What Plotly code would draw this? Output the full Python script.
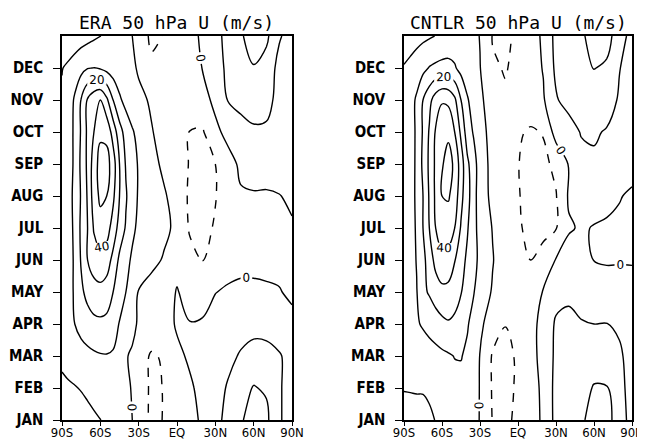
import plotly.graph_objects as go

# Latitude columns (deg; negative = south) and month rows (0 = JAN ... 12 = JAN of next year)
lats = [-90, -85, -80, -75, -70, -65, -60, -55, -50, -45, -40, -35, -30,
        -20, -10, 0, 10, 20, 30, 40, 50, 60, 70, 80, 90]
months = [0, 1, 2, 3, 4, 5, 6, 7, 8, 9, 10, 11, 12]
month_labels = ["JAN", "FEB", "MAR", "APR", "MAY", "JUN",
                "JUL", "AUG", "SEP", "OCT", "NOV", "DEC"]
lat_ticks = [-90, -60, -30, 0, 30, 60, 90]
lat_labels = ["90S", "60S", "30S", "EQ", "30N", "60N", "90N"]

# ERA 50 hPa zonal wind (m/s), one row per month
era_u = [
    [-6, -5.5, -5, -4, -3, -1.5, -0.2, 2, 3.5, 4, 3, 0, -4, -12, -9.6, -4, -2, 1, 7, 13, 19, 24, 22, 11, 6],
    [-2, -1.2, -0.5, 0.5, 2, 3.5, 5, 6, 6, 5, 3, -1, -5, -11.5, -9.7, -4, -1, 2, 6, 11, 17, 20.5, 19, 11, 6],
    [2, 3.5, 5, 6.5, 7.5, 8.5, 9.3, 9.5, 9, 5.5, 0.5, -1, -6, -11, -9, -1.5, 1, 2.5, 4.5, 7.5, 11, 14.5, 14.5, 11, 6],
    [3, 6, 10, 13, 15.5, 17.5, 18, 17.5, 14, 9.5, 6, 2, -1, -4, -3, 0.8, 0.3, 0.5, 3, 5, 6, 6, 5, 3.5, 1.5],
    [4, 7, 11, 18, 23, 26, 27, 25, 20, 14, 10, 5, -0.5, -3, -4, 0.5, -3, -2, -0.2, 1, 1.5, 1.5, 1, 0.3, -1],
    [4, 7, 11, 21, 30, 35, 37, 35, 27, 18, 13, 8.5, 5, 2, -0.7, -2.5, -7, -10.2, -7, -3, -2, -2, -2, -1.5, -1],
    [4, 7, 11.5, 22, 30, 41, 46, 44, 36, 26, 19, 12, 8, 4, 1.5, -1.5, -11, -13, -9, -5, -3, -2.5, -2, -1.2, -0.3],
    [3, 7, 12, 21, 31, 45, 52, 50, 42, 30, 21, 14, 9, 4, 1, -4, -11.5, -13, -10.5, -4, -0.8, -0.4, -0.5, -0.1, 0.5],
    [2, 5, 12, 22, 32, 45, 54, 54, 45, 30, 19, 14, 9, 3, -2, -6, -10.5, -12, -10, -3, 1.5, 2, 2, 1.5, 1],
    [1.5, 5, 12, 21, 32, 40, 48, 47, 36, 24, 16, 11, 7, 0.5, -3, -6, -10.2, -11, -2, 2.5, 5, 8, 8.5, 6, 3],
    [1, 4, 11.5, 20.5, 31, 37, 40, 32, 20, 11.5, 7, 4, 2, -1, -4, -6, -6, -3, 2, 10.5, 14, 16, 13, 7, 4],
    [-0.3, 1.5, 4, 7, 9.5, 10.2, 9, 7, 5, 4, 3, 1.5, -1, -8, -7, -4, -2.5, 0.2, 6, 12, 17, 19.5, 16, 7, 5],
    [-6, -5.5, -5, -4, -3, -1.5, -0.2, 2, 3.5, 4, 3, 0, -4, -12, -9.6, -4, -2, 1, 7, 13, 19, 24, 22, 11, 6],
]

# CNTLR 50 hPa zonal wind (m/s), one row per month
cntlr_u = [
    [-4, -3.5, -3, -2, -1, 0.2, 1.5, 3, 4, 4, 3, 2, -0.3, -10.5, -11, -9, -4, 1.5, 13, 17.5, 19, 22.5, 22.5, 16.5, 5],
    [0.5, 0.6, 0.7, 0.5, 1, 2.5, 4, 5.5, 7, 7, 5, 2.5, -0.3, -11, -12, -9, -4, 2, 13, 16, 17.5, 20.5, 20.5, 14, 5],
    [2, 3, 4, 5, 6, 7, 8, 9, 10.3, 10.5, 8, 4, -0.3, -11, -12, -9, -3, 3, 12, 14, 14.5, 16.5, 16, 12, 5],
    [3, 5.5, 9, 11, 13, 15, 17.5, 19, 18, 15, 11, 6, 2, -5, -9.8, -7, -2, 2, 11.5, 12.5, 10.5, 10, 10.2, 8, 4],
    [4, 6, 9.5, 18, 21, 25, 27.5, 27, 24, 20.5, 15, 10.5, 6, -1, -6, -6.5, -4, 0.5, 6, 8, 7, 6, 4, 3, 2],
    [4, 6, 10.5, 17, 25, 33, 37, 36.5, 30.5, 24, 18, 12.5, 8, 0.5, -6, -8, -10, -6, 0.5, 4, 3, -0.2, -0.8, -0.5, -0.4],
    [4, 6.5, 11, 20, 30, 40, 46, 45, 40, 29, 21, 12.5, 7, -0.5, -4, -9, -12, -13, -10.5, -1, 1, -0.5, -1.2, -1, -0.8],
    [3, 6.5, 11.5, 20, 31, 42, 50, 51, 46, 33, 23, 15, 3, -1.5, -4, -9.5, -12.5, -13, -10.5, 1, 4, 4, 2.5, 0.3, -0.8],
    [2, 5, 12, 22, 32, 42, 49, 54, 48, 35, 22, 14, 5, -3, -6, -9.8, -12, -12, -8, 0.5, 6, 8, 7, 4.5, 2],
    [1.5, 4.5, 12, 21, 31, 41, 47, 48, 40, 28, 15, 9, 3, -3, -7, -9, -11, -9.5, 4, 5, 10.8, 11.5, 9, 5, 2.5],
    [1, 6, 11.5, 20, 27, 35, 39, 38, 32, 20, 11, 5.5, 1.5, -4, -9, -8, -5, -1, 9, 14, 16, 17.5, 16, 8.5, 4],
    [0.5, 2, 4.5, 7.5, 10.5, 12, 13, 13, 11, 7, 4, 2, 0.3, -9, -10.5, -8, -4, 0.5, 12, 15.5, 17.5, 20.2, 19, 10.5, 4.5],
    [-4, -3.5, -3, -2, -1, 0.2, 1.5, 3, 4, 4, 3, 2, -0.3, -10.5, -11, -9, -4, 1.5, 13, 17.5, 19, 22.5, 22.5, 16.5, 5],
]

titles = ["ERA 50 hPa U (m/s)", "CNTLR 50 hPa U (m/s)"]

BLACK = [[0, "black"], [1, "black"]]
LABEL_FONT = dict(family="DejaVu Sans", size=12, color="black")

fig = go.Figure()


def add_panel(z, xa, ya):
    common = dict(x=lats, y=months, z=z, xaxis=xa, yaxis=ya, showscale=False,
                  colorscale=BLACK, autocontour=False, hoverinfo="skip")
    # negative (dashed) contour
    fig.add_trace(go.Contour(
        **common,
        contours=dict(coloring="lines", start=-10, end=-10, size=5, showlabels=False),
        line=dict(width=1.4, dash="dash", smoothing=1.0),
    ))
    # unlabeled positive contours 10, 30, 50
    fig.add_trace(go.Contour(
        **common,
        contours=dict(coloring="lines", start=10, end=50, size=20, showlabels=False),
        line=dict(width=1.4, smoothing=1.0),
    ))
    # labeled contours 0, 20, 40
    fig.add_trace(go.Contour(
        **common,
        contours=dict(coloring="lines", start=0, end=40, size=20, showlabels=True,
                      labelfont=LABEL_FONT),
        line=dict(width=1.4, smoothing=1.0),
    ))


add_panel(era_u, "x", "y")
add_panel(cntlr_u, "x2", "y2")

xaxis_common = dict(range=[-90, 90], tickvals=lat_ticks, ticktext=lat_labels,
                    ticks="outside", ticklen=4, tickcolor="black",
                    showline=True, mirror=True, linecolor="black", linewidth=1.5,
                    showgrid=False, zeroline=False, automargin=False,
                    ticklabelstandoff=-4,
                    tickfont=dict(family="DejaVu Sans Condensed", size=13, color="black"))
yaxis_common = dict(range=[0, 12], tickvals=list(range(12)), ticktext=month_labels,
                    ticks="outside", ticklen=7, tickcolor="black",
                    showline=True, mirror=True, linecolor="black", linewidth=1.5,
                    showgrid=False, zeroline=False, automargin=False, ticklabelstandoff=7,
                    tickfont=dict(family="DejaVu Sans Condensed",
                                  size=15, color="black", weight="bold"))

# the page places the figure 8 px from the top-left corner of the window
fig.update_layout(
    width=637, height=432,
    margin=dict(l=54, r=13, t=28, b=20, autoexpand=False),
    paper_bgcolor="white", plot_bgcolor="white",
    showlegend=False,
    xaxis=dict(domain=[0, 230 / 570], anchor="y", **xaxis_common),
    yaxis=dict(domain=[0, 1], anchor="x", **yaxis_common),
    xaxis2=dict(domain=[342 / 570, 1], anchor="y2", **xaxis_common),
    yaxis2=dict(domain=[0, 1], anchor="x2", **yaxis_common),
    annotations=[
        dict(text=titles[0], x=(176 - 62) / 570, y=1 + (36 - 22) / 384,
             xref="paper", yref="paper", xanchor="center", yanchor="middle",
             showarrow=False, font=dict(family="DejaVu Sans Mono", size=18, color="black")),
        dict(text=titles[1], x=(518 - 62) / 570, y=1 + (36 - 22) / 384,
             xref="paper", yref="paper", xanchor="center", yanchor="middle",
             showarrow=False, font=dict(family="DejaVu Sans Mono", size=18, color="black")),
    ],
)

fig.write_html("out.html")
